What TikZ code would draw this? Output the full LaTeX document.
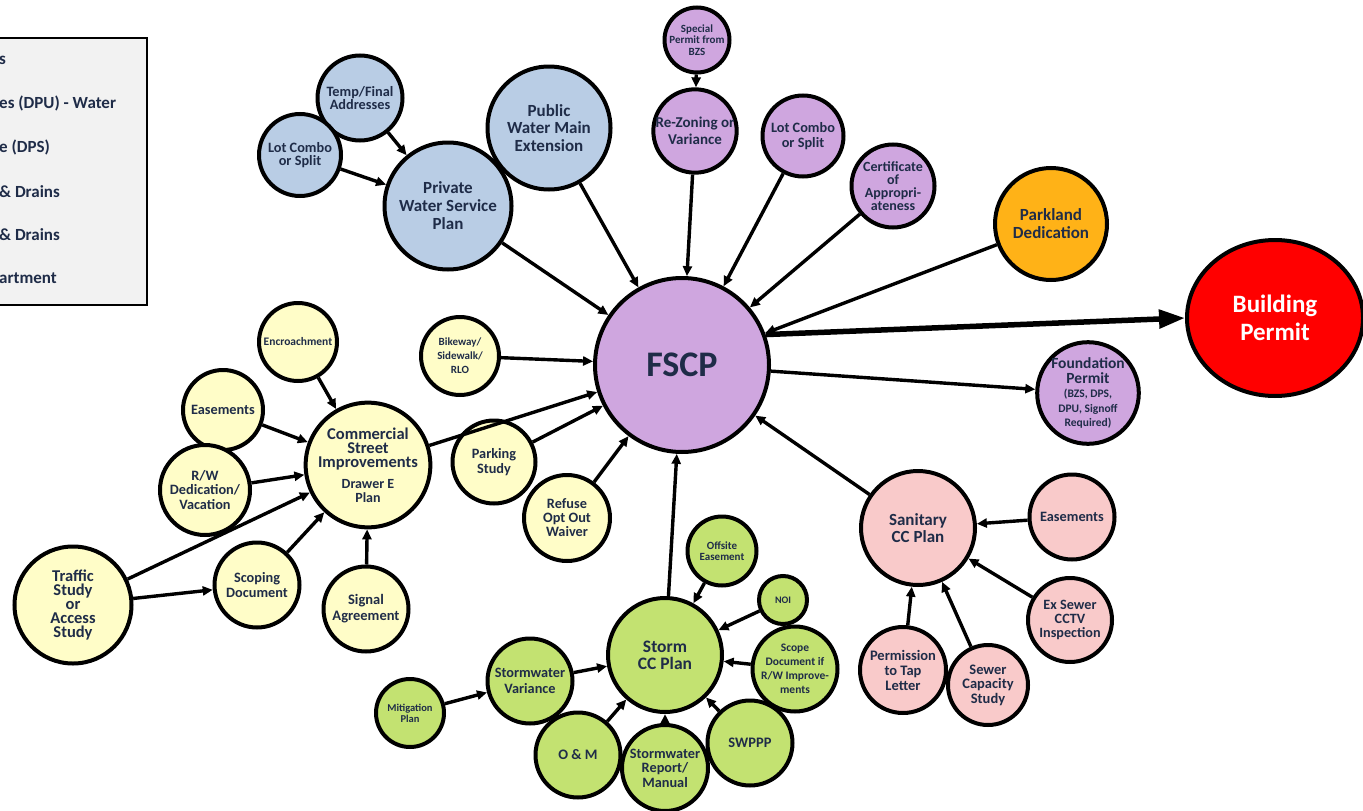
\documentclass[tikz,border=0pt]{standalone}
\usepackage{fontspec}
\setmainfont{Carlito}
\usetikzlibrary{arrows.meta,shapes.geometric}
\definecolor{cblue}{HTML}{B9CDE5}
\definecolor{cpurple}{HTML}{CFA6DF}
\definecolor{cyellow}{HTML}{FFFDC8}
\definecolor{cgreen}{HTML}{C3E271}
\definecolor{cpink}{HTML}{F9CACA}
\definecolor{corange}{HTML}{FFB217}
\definecolor{cred}{HTML}{FF0000}
\definecolor{txt}{HTML}{1F2C48}
\definecolor{leg}{HTML}{F2F2F2}
\tikzset{
  fs/.style 2 args={font=\fontsize{#1}{#2}\selectfont\bfseries},
  bub/.style={circle, draw=black, line width=4pt, inner sep=0pt, align=center, text=txt},
  bb/.style={bub, fill=cblue},
  pp/.style={bub, fill=cpurple},
  yy/.style={bub, fill=cyellow},
  gg/.style={bub, fill=cgreen},
  rr/.style={bub, fill=cpink},
  conn/.style={line width=3.4pt, -{Triangle[length=10pt,width=9pt]}},
  legtext/.style={anchor=west, inner sep=0pt, text=txt, fs={17}{19}},
}
\begin{document}
\begin{tikzpicture}[x=1pt,y=-1pt]
\useasboundingbox (0,0) rectangle (1363,811);
\fill[white] (0,0) rectangle (1363,811);
% legend
\draw[fill=leg, line width=2.4pt] (-20,38) rectangle (147,305);
\node[legtext] (l1) at (-1,60) {s};
\node[legtext] (l2) at (-1,103) {es (DPU) - Water};
\node[legtext] (l3) at (-1,147) {e (DPS)};
\node[legtext] (l4) at (-1,192) {\& Drains};
\node[legtext] (l5) at (-1,235) {\& Drains};
\node[legtext] (l6) at (-1,278) {artment};

% central
\node[pp, minimum size=174pt, fs={36}{38}] (fscp) at (682,365) {FSCP};
\node[ellipse, draw=black, line width=4pt, fill=cred, minimum width=176pt, minimum height=156pt, text=white, align=center, fs={25}{28}] (bp) at (1275,318) {Building\\Permit};
\node[pp, minimum size=88pt, fs={15.5}{14.5}] (found) at (1088,393) {Foundation\\Permit\\[0pt]\fontsize{11.5}{10.5}\selectfont (BZS, DPS,\\\fontsize{11.5}{10.5}\selectfont DPU, Signoff\\\fontsize{11.5}{10.5}\selectfont Required)};
\node[bub, fill=corange, minimum size=112pt, fs={17}{18}] (park) at (1051,224) {Parkland\\Dedication};

% blue
\node[bb, minimum size=85pt, fs={14.3}{13.5}] (temp) at (360,98) {Temp/Final\\Addresses};
\node[bb, minimum size=82pt, fs={14.3}{13.5}] (lcb) at (300,155) {Lot Combo\\or Split};
\node[bb, minimum size=127pt, fs={17}{18}] (pws) at (448,206) {Private\\Water Service\\Plan};
\node[bb, minimum size=123pt, fs={17}{17.5}] (pwm) at (549,128) {Public\\Water Main\\Extension};

% purple
\node[pp, minimum size=65pt, fs={11}{11.5}] (sp) at (697,40) {Special\\Permit from\\BZS};
\node[pp, minimum size=81pt, fs={15}{17}] (rz) at (695,131) {Re-Zoning or\\Variance};
\node[pp, minimum size=81pt, fs={14.3}{15}] (lcp) at (803,136) {Lot Combo\\or Split};
\node[pp, minimum size=83pt, fs={14}{13}] (cert) at (893,186) {Certificate\\of\\Appropri-\\ateness};

% yellow
\node[yy, minimum size=78pt, fs={11.5}{12}] (enc) at (298,342) {Encroachment};
\node[yy, minimum size=78pt, fs={11}{14}] (bike) at (460,356) {Bikeway/\\Sidewalk/\\RLO};
\node[yy, minimum size=80pt, fs={14.3}{15}] (easy) at (223,410) {Easements};
\node[yy, minimum size=114pt, fs={16.5}{14}] (csi) at (368,465) {Commercial\\Street\\Improvements\\[7pt]\fontsize{14}{11}\selectfont Drawer E\\\fontsize{14}{11}\selectfont Plan};
\node[yy, minimum size=90pt, fs={14.3}{14.5}] (rw) at (205,490) {R/W\\Dedication/\\Vacation};
\node[yy, minimum size=83pt, fs={14.3}{15.5}] (park2) at (494,462) {Parking\\Study};
\node[yy, minimum size=86pt, fs={14.3}{14}] (ref) at (567,518) {Refuse\\Opt Out\\Waiver};
\node[yy, minimum size=117pt, fs={16.5}{14}] (traf) at (73,605) {Traffic\\Study\\or\\Access\\Study};
\node[yy, minimum size=85pt, fs={14.3}{15}] (scop) at (257,585) {Scoping\\Document};
\node[yy, minimum size=85pt, fs={14.5}{16}] (sig) at (366,609) {Signal\\Agreement};

% green
\node[gg, minimum size=114pt, fs={17.5}{17}] (storm) at (665,655) {Storm\\CC Plan};
\node[gg, minimum size=69pt, fs={11}{11}] (off) at (722,551) {Offsite\\Easement};
\node[gg, minimum size=48pt, fs={10}{10}] (noi) at (783,600) {NOI};
\node[gg, minimum size=85pt, fs={11.5}{14}] (scope) at (795,669) {Scope\\Document if\\R/W Improve-\\ments};
\node[gg, minimum size=85pt, fs={14.5}{14}] (swppp) at (750,743) {SWPPP};
\node[gg, minimum size=86pt, fs={14.3}{14.5}] (rep) at (665,768) {Stormwater\\Report/\\Manual};
\node[gg, minimum size=85pt, fs={14.5}{14}] (om) at (578,755) {O \& M};
\node[gg, minimum size=85pt, fs={14.3}{15.5}] (var) at (530,681) {Stormwater\\Variance};
\node[gg, minimum size=68pt, fs={10.5}{11}] (mit) at (410,713) {Mitigation\\Plan};

% pink
\node[rr, minimum size=114pt, fs={17}{17}] (san) at (918,528) {Sanitary\\CC Plan};
\node[rr, minimum size=85pt, fs={14.3}{14}] (easp) at (1072,517) {Easements};
\node[rr, minimum size=84pt, fs={14.2}{14}] (ex) at (1070,620) {Ex Sewer\\CCTV\\Inspection};
\node[rr, minimum size=86pt, fs={14.5}{15}] (perm) at (903,670) {Permission\\to Tap\\Letter};
\node[rr, minimum size=80pt, fs={14.5}{14.5}] (cap) at (988,685) {Sewer\\Capacity\\Study};

% connectors
\draw[conn] (temp) -- (pws);
\draw[conn] (lcb) -- (pws);
\draw[conn] (pws) -- (fscp);
\draw[conn] (pwm) -- (fscp);
\draw[conn] (sp) -- (rz);
\draw[conn] (rz) -- (fscp);
\draw[conn] (lcp) -- (fscp);
\draw[conn] (cert) -- (fscp);
\draw[conn] (park) -- (fscp);
\draw[line width=5.5pt, -{Triangle[length=26pt,width=18pt]}] (fscp.20) -- (bp.west);
\draw[conn] (fscp) -- (found);
\draw[conn] (enc) -- (csi);
\draw[conn] (easy) -- (csi);
\draw[conn] (rw) -- (csi);
\draw[conn] (traf) -- (csi);
\draw[conn] (traf) -- (scop);
\draw[conn] (scop) -- (csi);
\draw[conn] (sig) -- (csi);
\draw[conn] (csi) -- (fscp);
\draw[conn] (bike) -- (fscp);
\draw[conn] (park2) -- (fscp);
\draw[conn] (ref) -- (fscp);
\draw[conn] (storm) -- (fscp);
\draw[conn] (off) -- (storm);
\draw[conn] (noi) -- (storm);
\draw[conn] (scope) -- (storm);
\draw[conn] (swppp) -- (storm);
\draw[conn] (rep) -- (storm);
\draw[conn] (om) -- (storm);
\draw[conn] (var) -- (storm);
\draw[conn] (mit) -- (var);
\draw[conn] (san) -- (fscp);
\draw[conn] (easp) -- (san);
\draw[conn] (ex) -- (san);
\draw[conn] (perm) -- (san);
\draw[conn] (cap) -- (san);
\end{tikzpicture}
\end{document}
